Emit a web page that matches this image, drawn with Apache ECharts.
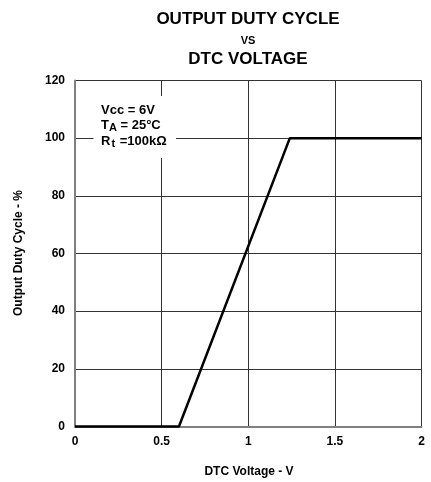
<!DOCTYPE html>
<html>
<head>
<meta charset="utf-8">
<script src="https://cdn.jsdelivr.net/npm/echarts@6/dist/echarts.min.js"></script>
<style>
  html, body { margin: 0; padding: 0; background: #fff; }
  #chart { width: 431px; height: 482px; }
</style>
</head>
<body>
<div id="chart"></div>
<script>
// Data
const dtcVoltage = [0, 0.6, 1.24, 2];
const dutyCycle = [0, 0, 100, 100];
const xTicks = [0, 0.5, 1, 1.5, 2];
const yTicks = [0, 20, 40, 60, 80, 100, 120];
const titleLines = ['OUTPUT DUTY CYCLE', 'VS', 'DTC VOLTAGE'];
const xName = 'DTC Voltage - V';
const yName = 'Output Duty Cycle - %';

const FONT = '"Liberation Sans", Arial, Helvetica, sans-serif';
const chart = echarts.init(document.getElementById('chart'), null, { renderer: 'canvas' });

const seriesData = dtcVoltage.map((v, i) => [v, dutyCycle[i]]);

const option = {
  animation: false,
  backgroundColor: '#fff',
  grid: { left: 75, right: 9.5, top: 80.5, bottom: 55.5, containLabel: false },
  xAxis: {
    type: 'value',
    min: xTicks[0], max: xTicks[xTicks.length - 1], interval: 0.5,
    axisLine: { show: true, onZero: false, lineStyle: { color: '#808080', width: 2 } },
    axisTick: { show: false },
    axisLabel: { color: '#000', fontFamily: FONT, fontWeight: 'bold', fontSize: 12, margin: 9 },
    splitLine: { show: true, lineStyle: { color: '#333', width: 1 } }
  },
  yAxis: {
    type: 'value',
    min: yTicks[0], max: yTicks[yTicks.length - 1], interval: 20,
    axisLine: { show: true, onZero: false, lineStyle: { color: '#808080', width: 2 } },
    axisTick: { show: false },
    axisLabel: { color: '#000', fontFamily: FONT, fontWeight: 'bold', fontSize: 12, margin: 10 },
    splitLine: { show: true, lineStyle: { color: '#333', width: 1 } }
  },
  series: [{
    type: 'line',
    data: seriesData,
    symbol: 'none',
    clip: false,
    z: 5,
    lineStyle: { color: '#000', width: 2.5 }
  }],
  graphic: [
    { type: 'text', z: 10, x: 248, y: 19.7, style: { text: titleLines[0], fill: '#000', font: 'bold 17px ' + FONT, textAlign: 'center', textVerticalAlign: 'middle' } },
    { type: 'text', z: 10, x: 248, y: 40.5, style: { text: titleLines[1], fill: '#000', font: 'bold 11px ' + FONT, textAlign: 'center', textVerticalAlign: 'middle' } },
    { type: 'text', z: 10, x: 248, y: 59.7, style: { text: titleLines[2], fill: '#000', font: 'bold 17px ' + FONT, textAlign: 'center', textVerticalAlign: 'middle' } },
    { type: 'text', z: 10, x: 249, y: 471.7, style: { text: xName, fill: '#000', font: 'bold 12px ' + FONT, textAlign: 'center', textVerticalAlign: 'middle' } },
    { type: 'text', z: 10, x: 19, y: 253, rotation: Math.PI / 2, style: { text: yName, fill: '#000', font: 'bold 12px ' + FONT, textAlign: 'center', textVerticalAlign: 'middle' } },
    { type: 'rect', z: 9, shape: { x: 93.5, y: 96, width: 82.5, height: 62 }, style: { fill: '#fff' } },
    { type: 'text', z: 10, x: 101, y: 110, style: { text: 'Vcc = 6V', fill: '#000', font: 'bold 13px ' + FONT, textVerticalAlign: 'middle' } },
    { type: 'text', z: 10, x: 101, y: 126, style: {
        text: '{m|T}{s|A}{m| = 25°C}', fill: '#000', textVerticalAlign: 'middle',
        rich: {
          m: { fontFamily: FONT, fontWeight: 'bold', fontSize: 13, lineHeight: 15, verticalAlign: 'top' },
          s: { fontFamily: FONT, fontWeight: 'bold', fontSize: 11, lineHeight: 13, verticalAlign: 'top', padding: [4, 0, 0, 0] }
        } } },
    { type: 'text', z: 10, x: 101, y: 142, style: {
        text: '{m|R}{s|t}{m| =100kΩ}', fill: '#000', textVerticalAlign: 'middle',
        rich: {
          m: { fontFamily: FONT, fontWeight: 'bold', fontSize: 13, lineHeight: 15, verticalAlign: 'top' },
          s: { fontFamily: FONT, fontWeight: 'bold', fontSize: 11, lineHeight: 13, verticalAlign: 'top', padding: [4, 1, 0, 1] }
        } } }
  ]
};
chart.setOption(option);
</script>
</body>
</html>
